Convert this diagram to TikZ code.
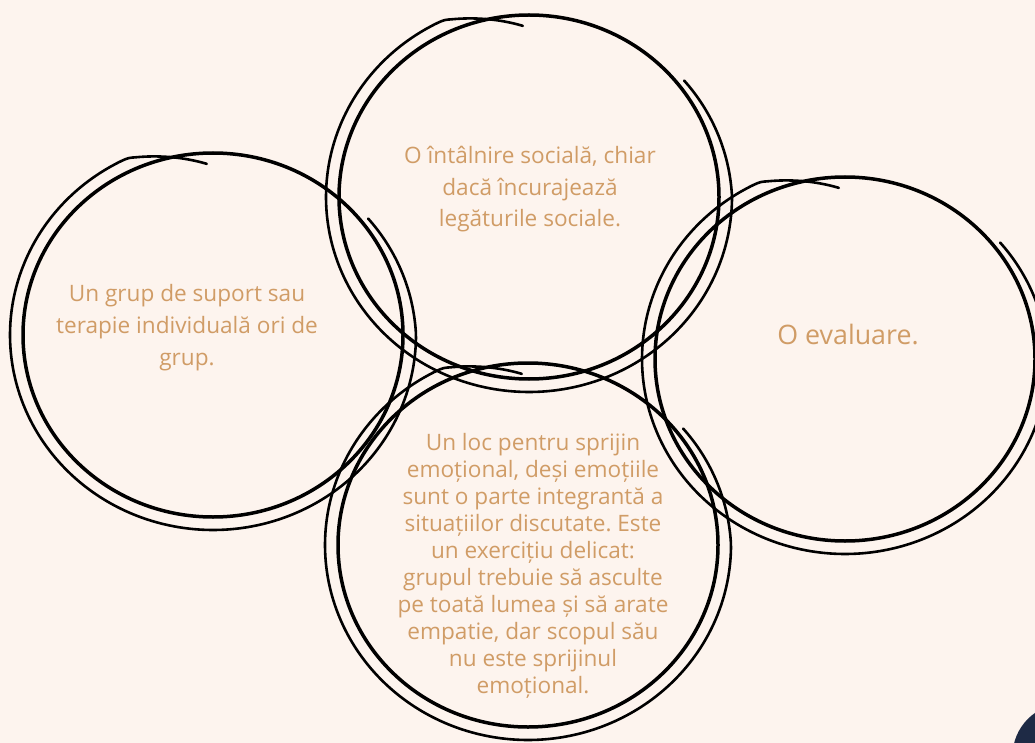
\documentclass[tikz,border=0pt]{standalone}
\usepackage{fontspec}
\setmainfont{Open Sans}
\frenchspacing
\definecolor{paperBg}{HTML}{FDF4EE}
\definecolor{textTan}{HTML}{D09C66}
\definecolor{navyDot}{HTML}{1E2A45}
\begin{document}
\begin{tikzpicture}[x=1pt,y=-1pt,
  thickring/.style={line width=3.5pt, black},
  thinring/.style={line width=2.6pt, black, line cap=round},
  ringtext/.style={text=textTan, align=center, inner sep=0pt, anchor=base},
  smalltext/.style={ringtext, font=\fontsize{22.6}{31.6}\selectfont},
  tinytext/.style={ringtext, font=\fontsize{22.6}{27}\selectfont},
  bigtext/.style={ringtext, font=\fontsize{26.8}{32}\selectfont}]
\useasboundingbox (0,0) rectangle (1035,743);
\clip (0,0) rectangle (1035,743);
\fill[paperBg] (0,0) rectangle (1035,743);
\fill[navyDot] (1065,756) circle[radius=52.5];
% four hand-drawn double rings: a closed thick loop and a spiralling thin loop
\foreach \dx/\dy in {0/0, 316/-138, 632/24, 315/210} {
  \begin{scope}[shift={(\dx,\dy)}]
    \draw[thickring] (213,335) ellipse[x radius=190, y radius=182];
    \draw[thinring] plot[domain=-38:268, samples=150, smooth, variable=\t]
      ({213+203*(1-0.0053*max(0,\t-245)-0.0008*max(0,-\t))*cos(\t)},
       {335+195*(1-0.0053*max(0,\t-245)-0.0008*max(0,-\t))*sin(\t)});
  \end{scope}
}
% multi-line labels are anchored at the baseline of their last line
\node[smalltext] (suport) at (187,365) {Un grup de suport sau\\terapie individuală ori de\\grup.};
\node[smalltext] (intalnire) at (530,227) {O întâlnire socială, chiar\\dacă încurajează\\legăturile sociale.};
\node[bigtext] (evaluare) at (848,344) {O evaluare.};
\node[tinytext] (sprijin) at (533,693) {Un loc pentru sprijin\\emoțional, deși emoțiile\\sunt o parte integrantă a\\situațiilor discutate. Este\\un exercițiu delicat:\\grupul trebuie să asculte\\pe toată lumea și să arate\\empatie, dar scopul său\\nu este sprijinul\\emoțional.};
\end{tikzpicture}
\end{document}
